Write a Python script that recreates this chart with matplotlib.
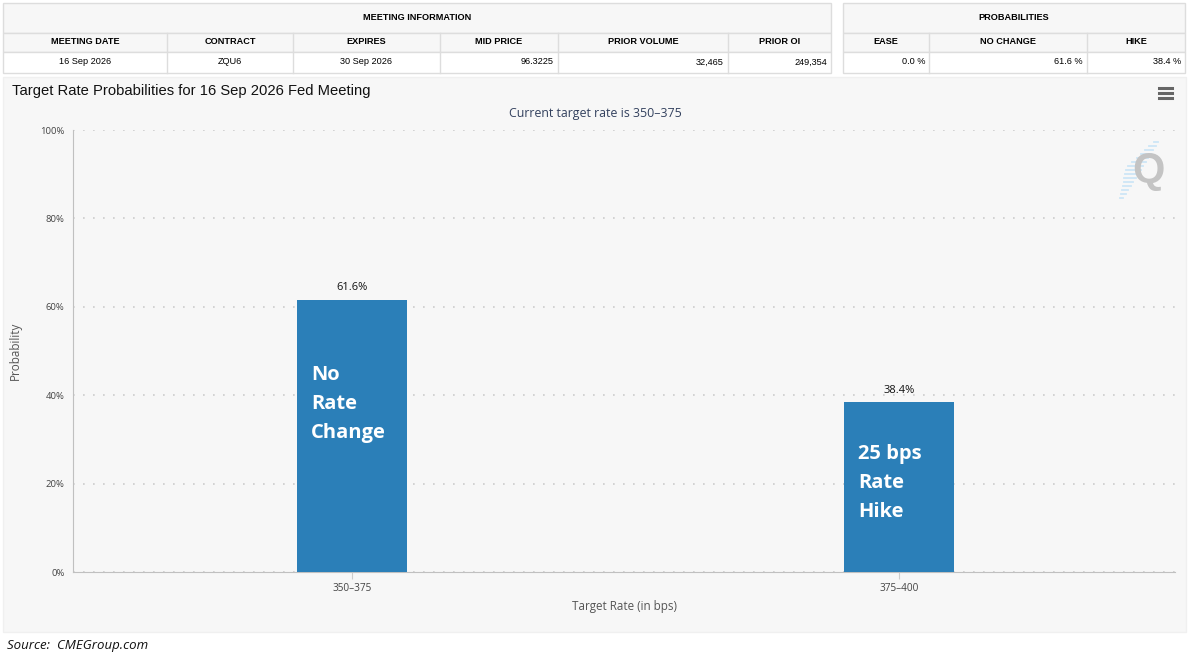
import matplotlib
matplotlib.use("Agg")
import matplotlib.pyplot as plt
from matplotlib.patches import Rectangle
from matplotlib.lines import Line2D

# ---------------- data ----------------
meeting_headers = ["MEETING DATE", "CONTRACT", "EXPIRES", "MID PRICE", "PRIOR VOLUME", "PRIOR OI"]
meeting_values = ["16 Sep 2026", "ZQU6", "30 Sep 2026", "96.3225", "32,465", "249,354"]
prob_headers = ["EASE", "NO CHANGE", "HIKE"]
prob_values = ["0.0 %", "61.6 %", "38.4 %"]

categories = ["350\u2013375", "375\u2013400"]
probabilities = [61.6, 38.4]
bar_notes = ["No\nRate\nChange", "25 bps\nRate\nHike"]
y_ticks = [0, 20, 40, 60, 80, 100]

title = "Target Rate Probabilities for 16 Sep 2026 Fed Meeting"
subtitle = "Current target rate is 350\u2013375"

# ---------------- layout ----------------
W, H = 1190, 656
fig = plt.figure(figsize=(W / 100, H / 100), dpi=100)
fig.patch.set_facecolor("white")

# pixel row (from top) of the middle line of each note inside the bars
note_mid_px = [404, 483]


def fx(x):
    return x / W


def fy(y):
    return 1 - y / H


def rect(x0, y0, x1, y1, fc="none", ec="#dddddd", lw=1.0, z=0):
    fig.add_artist(Rectangle((fx(x0), fy(y1)), fx(x1) - fx(x0), fy(y0) - fy(y1),
                             transform=fig.transFigure, facecolor=fc, edgecolor=ec,
                             linewidth=lw, zorder=z))


def hline(x0, x1, y, color="#dddddd", lw=1.0):
    fig.add_artist(Line2D([fx(x0), fx(x1)], [fy(y), fy(y)], transform=fig.transFigure,
                          color=color, linewidth=lw))


def vline(x, y0, y1, color="#dddddd", lw=1.0):
    fig.add_artist(Line2D([fx(x), fx(x)], [fy(y0), fy(y1)], transform=fig.transFigure,
                          color=color, linewidth=lw))


tfont = dict(family=["Liberation Sans", "DejaVu Sans"], fontsize=6.6, color="#000000")

# Meeting information table
mx = [3, 167, 293, 440, 558, 728, 831]
rect(3, 3, 831, 33, fc="#f7f7f7")
rect(3, 33, 831, 52, fc="#f7f7f7")
rect(3, 52, 831, 73, fc="white")
for x in mx[1:-1]:
    vline(x, 33, 73)
fig.text(fx(417), fy(17), "MEETING INFORMATION", ha="center", va="center", weight="bold", **tfont)
for i, h in enumerate(meeting_headers):
    fig.text(fx((mx[i] + mx[i + 1]) / 2), fy(42), h, ha="center", va="center", weight="bold", **tfont)
for i, v in enumerate(meeting_values):
    if i < 3:
        fig.text(fx((mx[i] + mx[i + 1]) / 2), fy(62), v, ha="center", va="center", **tfont)
    else:
        fig.text(fx(mx[i + 1] - 4), fy(62), v, ha="right", va="center", **tfont)

# Probabilities table
px = [843, 929, 1087, 1185]
rect(843, 3, 1185, 33, fc="#f7f7f7")
rect(843, 33, 1185, 52, fc="#f7f7f7")
rect(843, 52, 1185, 73, fc="white")
for x in px[1:-1]:
    vline(x, 33, 73)
fig.text(fx(1014), fy(17), "PROBABILITIES", ha="center", va="center", weight="bold", **tfont)
for i, h in enumerate(prob_headers):
    fig.text(fx((px[i] + px[i + 1]) / 2), fy(42), h, ha="center", va="center", weight="bold", **tfont)
for i, v in enumerate(prob_values):
    fig.text(fx(px[i + 1] - 4), fy(62), v, ha="right", va="center", **tfont)

# Chart panel
rect(3, 77, 1186, 632, fc="#f7f7f7", ec="#f0f0f0", z=-1)

fig.text(fx(12), fy(91), title, ha="left", va="center", fontsize=10.6,
         family=["Liberation Sans", "DejaVu Sans"], color="#111111")
fig.text(fx(595), fy(114), subtitle, ha="center", va="center", fontsize=8.9,
         family=["Open Sans", "DejaVu Sans"], color="#33415e")

# hamburger icon
for yy in (88, 93, 98):
    hline(1159, 1172, yy, color="#666666", lw=2.2)

# Q logo
dash_rows = list(range(142, 200, 4))
for i, yy in enumerate(dash_rows):
    xr = 1158 - (yy - 142) * 0.62
    mid = abs(yy - 168)
    length = max(3, 16 - mid * 0.45)
    hline(xr - length, xr, yy, color="#cde6f6", lw=1.3)
fig.text(fx(1148), fy(171), "Q", ha="center", va="center", fontsize=30, weight="bold",
         family=["Liberation Sans", "DejaVu Sans"], color="#c4c4c4")

# Axes
ax = fig.add_axes([fx(73), fy(572), fx(1175) - fx(73), fy(130) - fy(572)])
ax.set_facecolor("none")
xpos = list(range(len(categories)))
bars = ax.bar(xpos, probabilities, width=0.201, color="#2b7fb8", zorder=3)
ax.set_xlim(-0.51, len(categories) - 1 + 0.5046)
ax.set_ylim(0, 100)
ax.set_yticks(y_ticks)
ax.set_yticklabels([f"{t}%" for t in y_ticks], fontsize=6.8, color="#444444",
                   family=["Open Sans", "DejaVu Sans"])
ax.set_xticks(xpos)
ax.set_xticklabels(categories, fontsize=7.2, color="#444444", family=["Open Sans", "DejaVu Sans"])
ax.tick_params(axis="y", length=0, pad=6)
ax.tick_params(axis="x", length=5, color="#cccccc", pad=3)
ax.yaxis.grid(True, linestyle=(0, (1, 5)), color="#cccccc", linewidth=1.2, zorder=0)
ax.set_axisbelow(True)
for s in ("top", "right"):
    ax.spines[s].set_visible(False)
ax.spines["left"].set_color("#c0c0c0")
ax.spines["bottom"].set_color("#c0c0c0")

ax.set_xlabel("Target Rate (in bps)", fontsize=8.4, color="#555555",
              family=["Open Sans", "DejaVu Sans"], labelpad=4)
ax.set_ylabel("Probability", fontsize=8.4, color="#555555",
              family=["Open Sans", "DejaVu Sans"])
ax.yaxis.set_label_coords((22 - 73) / (1175 - 73), 0.5)

for b, v, note, mpx in zip(bars, probabilities, bar_notes, note_mid_px):
    ax.text(b.get_x() + b.get_width() / 2, v + 1.5, f"{v}%", ha="center", va="bottom",
            fontsize=8, color="#111111", family=["Open Sans", "DejaVu Sans"])
    ymid = (572 - mpx) / (572 - 130) * 100
    ax.text(b.get_x() + b.get_width() * 0.13, ymid, note, ha="left", va="center",
            fontsize=14.5, weight="bold", color="white", linespacing=1.6,
            family=["Open Sans", "DejaVu Sans"])

fig.text(fx(7), fy(645), "Source:  CMEGroup.com", ha="left", va="center", fontsize=9.5,
         style="italic", family=["Open Sans", "DejaVu Sans"], color="#111111")

fig.savefig("out.png", dpi=100, facecolor="white")
